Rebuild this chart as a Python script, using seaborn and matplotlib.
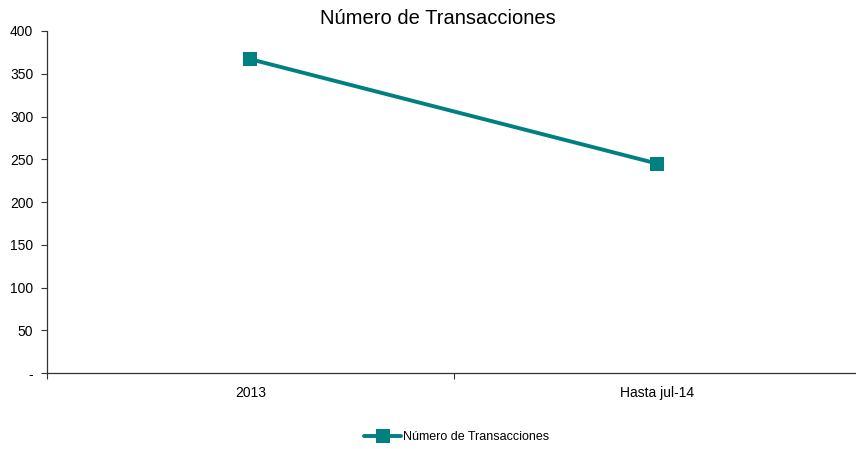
import pandas as pd
import seaborn as sns
import matplotlib.pyplot as plt
from matplotlib.ticker import FixedLocator, FixedFormatter

periodos = ["2013", "Hasta jul-14"]
transacciones = [367, 245]
y_ticks = [0, 50, 100, 150, 200, 250, 300, 350, 400]
y_labels = ["-", "50", "100", "150", "200", "250", "300", "350", "400"]

df = pd.DataFrame({"Periodo": periodos, "Número de Transacciones": transacciones})

sns.set_style("white")
plt.rcParams["font.family"] = ["Liberation Sans", "DejaVu Sans"]
plt.rcParams["text.color"] = "black"
plt.rcParams["xtick.color"] = "black"
plt.rcParams["ytick.color"] = "black"

fig = plt.figure(figsize=(8.56, 4.49), dpi=100)
ax = fig.add_axes([0.055, 0.169, 0.95, 0.762])

sns.lineplot(data=df, x="Periodo", y="Número de Transacciones", ax=ax,
             color="#008080", linewidth=2.8, marker="s", markersize=9.5,
             markeredgewidth=0, label="Número de Transacciones", legend=False)

ax.set_xlim(-0.5, 1.5)
ax.set_ylim(0, 400)
ax.yaxis.set_major_locator(FixedLocator(y_ticks))
ax.yaxis.set_major_formatter(FixedFormatter(y_labels))
ax.xaxis.set_minor_locator(FixedLocator([-0.5, 0.5, 1.5]))
ax.tick_params(axis="x", which="major", length=0, pad=9, labelsize=10, labelcolor="black")
ax.tick_params(axis="x", which="minor", length=4, width=0.8, direction="out", bottom=True, color="#333333")
ax.tick_params(axis="y", length=4, width=0.8, direction="out", left=True, pad=6, labelsize=10,
               color="#333333", labelcolor="black")

for s in ["top", "right"]:
    ax.spines[s].set_visible(False)
for s in ["left", "bottom"]:
    ax.spines[s].set_color("#333333")
    ax.spines[s].set_linewidth(0.9)

ax.set_xlabel("")
ax.set_ylabel("")
fig.suptitle("Número de Transacciones", x=0.511, y=0.979, va="top", fontsize=14.5, color="black")

handles, labels = ax.get_legend_handles_labels()
fig.legend(handles, labels, loc="lower center", bbox_to_anchor=(0.533, -0.012),
           frameon=False, fontsize=9, handlelength=3, handletextpad=0.1)

fig.savefig("out.png", dpi=100)
